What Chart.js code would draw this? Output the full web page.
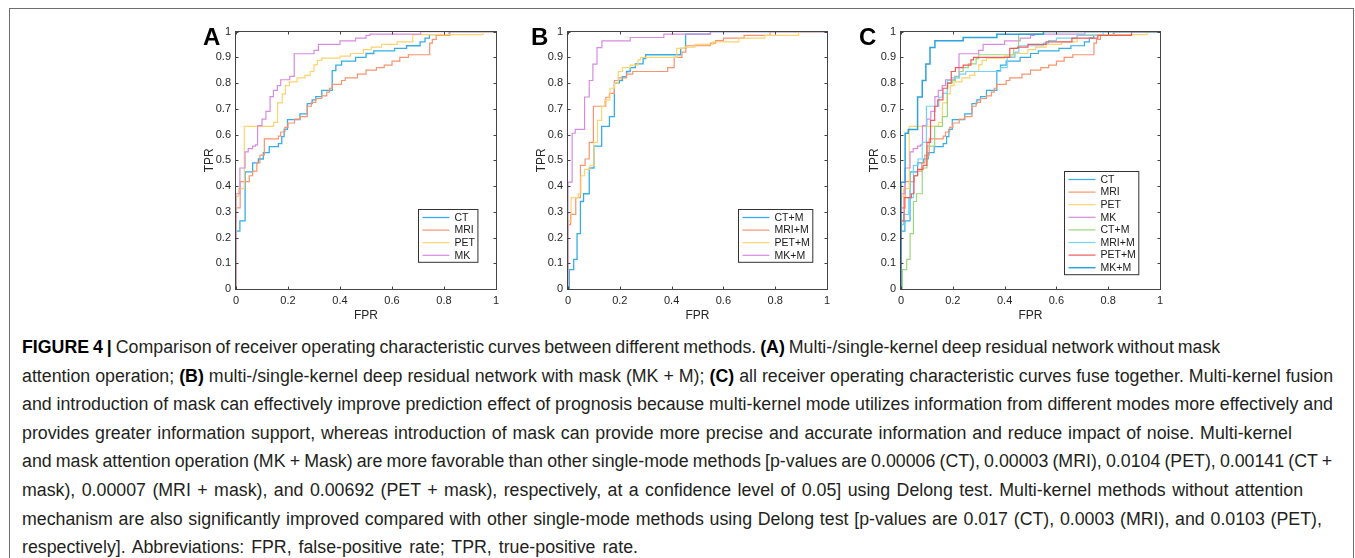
<!DOCTYPE html>
<html>
<head>
<meta charset="utf-8">
<script src="https://cdn.jsdelivr.net/npm/chart.js@4.4.1/dist/chart.umd.min.js"></script>
<style>
html, body { margin: 0; padding: 0; background: #fff; width: 1355px; height: 558px; overflow: hidden; font-family: "Liberation Sans", Arial, sans-serif; }
#frame { position: absolute; left: 9px; top: 8px; width: 1345px; height: 600px; border: 1.5px solid #6e6e6e; box-sizing: border-box; }
canvas { position: absolute; top: 20px; }
.letter { position: absolute; top: 25px; font: bold 24px/1 "Liberation Sans", Arial, sans-serif; color: #000; }
#caption { position: absolute; left: 22px; top: 333px; color: #231f20; white-space: nowrap; font-size: 16px; }
#caption div { width: max-content; height: 28.6px; line-height: 28.6px; }
#caption b { color: #000; }
</style>
</head>
<body>
<div id="frame"></div>
<canvas id="chartA" width="320" height="310" style="left:186px"></canvas>
<canvas id="chartB" width="319" height="310" style="left:518px"></canvas>
<canvas id="chartC" width="319" height="310" style="left:851px"></canvas>
<div class="letter" style="left:203px">A</div>
<div class="letter" style="left:531px">B</div>
<div class="letter" style="left:859px">C</div>

<div id="caption">
<div><b>FIGURE 4 |</b> Comparison of receiver operating characteristic curves between different methods. <b>(A)</b> Multi-/single-kernel deep residual network without mask</div>
<div>attention operation; <b>(B)</b> multi-/single-kernel deep residual network with mask (MK + M); <b>(C)</b> all receiver operating characteristic curves fuse together. Multi-kernel fusion</div>
<div>and introduction of mask can effectively improve prediction effect of prognosis because multi-kernel mode utilizes information from different modes more effectively and</div>
<div>provides greater information support, whereas introduction of mask can provide more precise and accurate information and reduce impact of noise. Multi-kernel</div>
<div>and mask attention operation (MK + Mask) are more favorable than other single-mode methods [p-values are 0.00006 (CT), 0.00003 (MRI), 0.0104 (PET), 0.00141 (CT +</div>
<div>mask), 0.00007 (MRI + mask), and 0.00692 (PET + mask), respectively, at a confidence level of 0.05] using Delong test. Multi-kernel methods without attention</div>
<div>mechanism are also significantly improved compared with other single-mode methods using Delong test [p-values are 0.017 (CT), 0.0003 (MRI), and 0.0103 (PET),</div>
<div>respectively]. Abbreviations: FPR, false-positive rate; TPR, true-positive rate.</div>
</div>

<script>
// tick labels (MATLAB style)
const xTickLabels = ['0', '0.2', '0.4', '0.6', '0.8', '1']
const yTickLabels = ['0', '0.1', '0.2', '0.3', '0.4', '0.5', '0.6', '0.7', '0.8', '0.9', '1']

// ROC curves: at each fpr the curve rises to tpr
const ctFpr  = [0, 0, 0.015, 0.035, 0.064, 0.086, 0.105, 0.128, 0.163, 0.176, 0.185, 0.198, 0.246, 0.274, 0.293, 0.307, 0.33, 0.37, 0.384, 0.406, 0.46, 0.5, 0.53, 0.61, 0.656, 0.708, 0.727, 0.744, 0.82, 1]
const ctTpr  = [0, 0.225, 0.265, 0.455, 0.49, 0.505, 0.53, 0.553, 0.565, 0.592, 0.62, 0.658, 0.68, 0.72, 0.735, 0.747, 0.772, 0.848, 0.87, 0.885, 0.9, 0.915, 0.925, 0.935, 0.945, 0.96, 0.975, 0.988, 1, 1]

const mriFpr = [0, 0, 0.016, 0.051, 0.064, 0.08, 0.092, 0.109, 0.163, 0.172, 0.188, 0.2, 0.225, 0.246, 0.274, 0.29, 0.307, 0.33, 0.349, 0.36, 0.37, 0.406, 0.42, 0.467, 0.5, 0.54, 0.57, 0.6, 0.63, 0.663, 0.745, 0.755, 0.77, 0.823, 1]
const mriTpr = [0, 0.315, 0.417, 0.44, 0.458, 0.49, 0.52, 0.583, 0.594, 0.61, 0.628, 0.645, 0.66, 0.67, 0.71, 0.725, 0.74, 0.75, 0.765, 0.78, 0.795, 0.81, 0.82, 0.835, 0.85, 0.86, 0.87, 0.885, 0.9, 0.91, 0.955, 0.97, 0.985, 1, 1]

const petFpr = [0, 0, 0.01, 0.032, 0.145, 0.16, 0.178, 0.19, 0.205, 0.235, 0.265, 0.285, 0.3, 0.313, 0.33, 0.4, 0.44, 0.49, 0.52, 0.56, 0.62, 0.68, 0.95, 1]
const petTpr = [0, 0.36, 0.39, 0.632, 0.647, 0.723, 0.758, 0.79, 0.805, 0.82, 0.83, 0.845, 0.872, 0.888, 0.897, 0.905, 0.915, 0.93, 0.94, 0.95, 0.96, 0.988, 1, 1]

const mkFpr  = [0, 0, 0.015, 0.035, 0.047, 0.064, 0.075, 0.083, 0.1, 0.115, 0.131, 0.144, 0.159, 0.172, 0.207, 0.224, 0.3, 0.317, 0.4, 0.46, 0.5, 0.515, 0.71, 1]
const mkTpr  = [0, 0.37, 0.47, 0.533, 0.545, 0.555, 0.56, 0.635, 0.66, 0.69, 0.747, 0.772, 0.79, 0.813, 0.826, 0.914, 0.927, 0.95, 0.964, 0.975, 0.985, 0.99, 1, 1]

const ctmFpr  = [0, 0.005, 0.022, 0.035, 0.048, 0.06, 0.082, 0.1, 0.13, 0.16, 0.179, 0.198, 0.21, 0.226, 0.24, 0.26, 0.29, 0.3, 0.435, 0.454, 0.55, 1]
const ctmTpr  = [0, 0.075, 0.115, 0.215, 0.34, 0.37, 0.47, 0.555, 0.632, 0.67, 0.8, 0.81, 0.825, 0.845, 0.86, 0.875, 0.895, 0.91, 0.935, 0.99, 1, 1]

const mrimFpr = [0, 0, 0.01, 0.03, 0.048, 0.066, 0.082, 0.098, 0.146, 0.16, 0.179, 0.195, 0.226, 0.25, 0.385, 0.41, 0.44, 0.455, 0.55, 0.57, 0.6, 0.68, 0.78, 1]
const mrimTpr = [0, 0.25, 0.29, 0.355, 0.48, 0.505, 0.57, 0.71, 0.745, 0.76, 0.81, 0.82, 0.835, 0.845, 0.86, 0.9, 0.92, 0.945, 0.955, 0.965, 0.975, 0.985, 1, 1]

const petmFpr = [0, 0, 0.012, 0.04, 0.05, 0.064, 0.085, 0.1, 0.114, 0.13, 0.142, 0.162, 0.18, 0.194, 0.21, 0.24, 0.27, 0.28, 0.42, 0.45, 0.49, 0.56, 0.66, 0.76, 0.89, 1]
const petmTpr = [0, 0.265, 0.355, 0.37, 0.44, 0.465, 0.48, 0.57, 0.655, 0.71, 0.735, 0.78, 0.8, 0.845, 0.86, 0.87, 0.89, 0.9, 0.935, 0.94, 0.95, 0.96, 0.975, 0.985, 1, 1]

const mkmFpr  = [0, 0, 0.016, 0.028, 0.064, 0.082, 0.096, 0.112, 0.131, 0.24, 0.37, 0.55, 1]
const mkmTpr  = [0, 0.415, 0.605, 0.62, 0.746, 0.81, 0.874, 0.938, 0.964, 0.977, 0.99, 1, 1]

const namesA = ['CT', 'MRI', 'PET', 'MK']
const namesB = ['CT+M', 'MRI+M', 'PET+M', 'MK+M']
const namesC = ['CT', 'MRI', 'PET', 'MK', 'CT+M', 'MRI+M', 'PET+M', 'MK+M']

const BLUE = '#35ade6', SALMON = '#f8946f', YELLOW = '#fdd46e', VIOLET = '#d78ce0'
const FONT = '"Liberation Sans", Arial, sans-serif'
const tickFont = { family: FONT, size: 11 }

// box, inward ticks, axis titles and legend drawn the MATLAB way
const matlabBox = {
  id: 'matlabBox',
  afterDatasetsDraw(chart, args, opts) {
    const { ctx, chartArea: a, scales: { x, y } } = chart
    ctx.save()
    ctx.strokeStyle = '#444'
    ctx.lineWidth = 1
    const L = Math.round(a.left) - 0.5, R = Math.round(a.right) + 0.5
    const T = Math.round(a.top) - 0.5, B = Math.round(a.bottom) + 0.5
    ctx.strokeRect(L, T, R - L, B - T)
    ctx.beginPath()
    x.ticks.forEach(t => {
      const px = Math.round(x.getPixelForValue(t.value)) + 0.5
      ctx.moveTo(px, B); ctx.lineTo(px, B - 3)
      ctx.moveTo(px, T); ctx.lineTo(px, T + 3)
    })
    y.ticks.forEach(t => {
      const py = Math.round(y.getPixelForValue(t.value)) + 0.5
      ctx.moveTo(L, py); ctx.lineTo(L + 3, py)
      ctx.moveTo(R, py); ctx.lineTo(R - 3, py)
    })
    ctx.stroke()

    // axis titles
    ctx.fillStyle = '#262626'
    ctx.font = '12px ' + FONT
    ctx.textAlign = 'center'
    ctx.textBaseline = 'middle'
    ctx.fillText('FPR', (a.left + a.right) / 2, a.bottom + 27)
    ctx.save()
    ctx.translate(a.left - 26, (a.top + a.bottom) / 2)
    ctx.rotate(-Math.PI / 2)
    ctx.fillText('TPR', 0, 0)
    ctx.restore()

    // legend
    const sets = chart.data.datasets
    ctx.font = '10.5px ' + FONT
    const tw = Math.max(...sets.map(d => ctx.measureText(d.label).width))
    const w = 4 + 27 + 5 + tw + 3
    const rowH = 12.6
    const h = 8 + (sets.length - 1) * rowH + 7
    const bx = Math.round(a.right - opts.right - w) + 0.5
    const by = Math.round(a.bottom - opts.bottom - h) + 0.5
    ctx.fillStyle = '#fff'
    ctx.fillRect(bx, by, w, h)
    ctx.strokeStyle = '#333'
    ctx.strokeRect(bx, by, w, h)
    ctx.textAlign = 'left'
    sets.forEach((d, i) => {
      const cy = by + 8 + i * rowH
      ctx.strokeStyle = d.borderColor
      ctx.lineWidth = d.borderWidth
      ctx.beginPath()
      ctx.moveTo(bx + 4, cy); ctx.lineTo(bx + 31, cy)
      ctx.stroke()
      ctx.fillStyle = '#1a1a1a'
      ctx.fillText(d.label, bx + 36, cy + 0.5)
    })
    ctx.restore()
  }
}

function toPoints(fpr, tpr) {
  return fpr.map((v, i) => ({ x: v, y: tpr[i] }))
}

function makePanel(id, names, curves, colors, widths, legendPos) {
  new Chart(document.getElementById(id), {
    type: 'line',
    data: {
      datasets: names.map((n, i) => ({
        label: n,
        data: toPoints(curves[i][0], curves[i][1]),
        borderColor: colors[i],
        borderWidth: widths[i],
        stepped: true,
        pointRadius: 0,
        fill: false,
        order: names.length - i // later curves on top, like MATLAB
      }))
    },
    options: {
      responsive: false,
      animation: false,
      events: [],
      layout: { padding: { top: 9, right: 10, left: 0, bottom: 0 } },
      plugins: {
        legend: { display: false },
        tooltip: { enabled: false },
        matlabBox: legendPos
      },
      scales: {
        x: {
          type: 'linear', min: 0, max: 1,
          ticks: { stepSize: 0.2, autoSkip: false, maxRotation: 0, padding: 5, color: '#262626', font: tickFont,
            callback: (v, i) => xTickLabels[i] },
          grid: { display: false, drawTicks: false },
          border: { display: false },
          afterFit(s) { s.height = 41 }
        },
        y: {
          type: 'linear', min: 0, max: 1,
          ticks: { stepSize: 0.1, autoSkip: false, padding: 5, color: '#262626', font: tickFont,
            callback: (v, i) => yTickLabels[i] },
          grid: { display: false, drawTicks: false },
          border: { display: false },
          afterFit(s) { s.width = 50 }
        }
      }
    },
    plugins: [matlabBox]
  })
}

const curvesA = [[ctFpr, ctTpr], [mriFpr, mriTpr], [petFpr, petTpr], [mkFpr, mkTpr]]
const curvesB = [[ctmFpr, ctmTpr], [mrimFpr, mrimTpr], [petmFpr, petmTpr], [mkmFpr, mkmTpr]]

makePanel('chartA', namesA, curvesA, [BLUE, SALMON, YELLOW, VIOLET], [1.3, 1.2, 1.2, 1.2], { right: 19, bottom: 27 })
makePanel('chartB', namesB, curvesB, [BLUE, SALMON, YELLOW, VIOLET], [1.3, 1.2, 1.2, 1.2], { right: 15, bottom: 27 })
makePanel('chartC', namesC, curvesA.concat(curvesB),
  [BLUE, SALMON, YELLOW, VIOLET, '#9bd67c', '#74d4f6', '#ef5a5e', '#2ba3dd'],
  [1.2, 1.2, 1.2, 1.2, 1.2, 1.2, 1.2, 1.5], { right: 22, bottom: 15 })

// fit the caption font so the second line spans the same width as in the figure
const cap = document.getElementById('caption')
const capLines = cap.querySelectorAll('div')
const w2 = capLines[1].getBoundingClientRect().width
cap.style.fontSize = (16 * 1311 / w2).toFixed(2) + 'px'

// nudge the word spacing of each line towards the ragged line ends of the figure
const lineEnds = [1187, 1333, 1333, 1292, 1332, 1303, 1322, 731]
capLines.forEach((el, i) => {
  const r = el.getBoundingClientRect()
  const spaces = (el.textContent.match(/ /g) || []).length
  const ws = Math.max(-1, Math.min(2, (lineEnds[i] - r.right) / spaces))
  el.style.wordSpacing = ws.toFixed(2) + 'px'
})
</script>
</body>
</html>
